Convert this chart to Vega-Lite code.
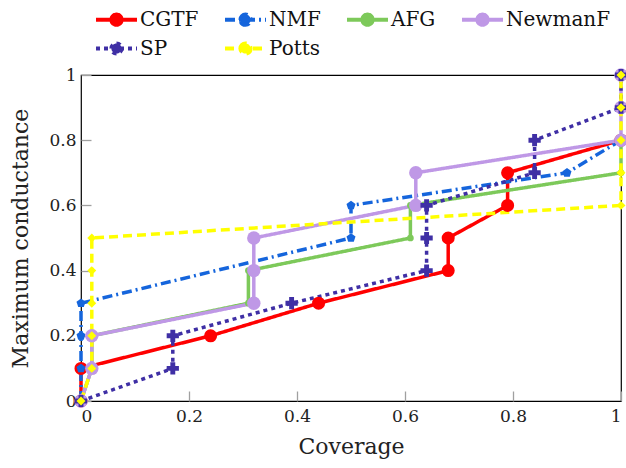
{
  "$schema": "https://vega.github.io/schema/vega-lite/v6.json",
  "width": 540,
  "height": 326,
  "autosize": {"type": "none"},
  "padding": {"left": 81, "top": 75, "right": 5, "bottom": 67},
  "background": "white",
  "config": {
    "font": "DejaVu Serif",
    "view": {"stroke": "black", "strokeWidth": 1.2},
    "axis": {"grid": false, "domain": false, "tickColor": "#a0a0a0", "tickWidth": 1.3, "tickSize": -10, "labelColor": "#222222", "labelFontSize": 17, "titleFontSize": 22, "titleFontWeight": "normal", "titleColor": "#222222", "labelFont": "DejaVu Serif", "titleFont": "DejaVu Serif"},
    "legend": {"labelFont": "DejaVu Serif", "labelFontSize": 20, "labelColor": "#111111"}
  },
  "data": {
    "values": [
      {"series": "CGTF", "coverage": 0, "conductance": 0},
      {"series": "CGTF", "coverage": 0, "conductance": 0.1},
      {"series": "CGTF", "coverage": 0.24, "conductance": 0.2},
      {"series": "CGTF", "coverage": 0.44, "conductance": 0.3},
      {"series": "CGTF", "coverage": 0.68, "conductance": 0.4},
      {"series": "CGTF", "coverage": 0.68, "conductance": 0.5},
      {"series": "CGTF", "coverage": 0.79, "conductance": 0.6},
      {"series": "CGTF", "coverage": 0.79, "conductance": 0.7},
      {"series": "CGTF", "coverage": 1, "conductance": 0.8},
      {"series": "NMF", "coverage": 0, "conductance": 0},
      {"series": "NMF", "coverage": 0, "conductance": 0.1},
      {"series": "NMF", "coverage": 0, "conductance": 0.2},
      {"series": "NMF", "coverage": 0, "conductance": 0.3},
      {"series": "NMF", "coverage": 0.5, "conductance": 0.5},
      {"series": "NMF", "coverage": 0.5, "conductance": 0.6},
      {"series": "NMF", "coverage": 0.9, "conductance": 0.7},
      {"series": "NMF", "coverage": 1, "conductance": 0.8},
      {"series": "AFG", "coverage": 0, "conductance": 0},
      {"series": "AFG", "coverage": 0.02, "conductance": 0.1},
      {"series": "AFG", "coverage": 0.02, "conductance": 0.2},
      {"series": "AFG", "coverage": 0.31, "conductance": 0.3},
      {"series": "AFG", "coverage": 0.31, "conductance": 0.4},
      {"series": "AFG", "coverage": 0.61, "conductance": 0.5},
      {"series": "AFG", "coverage": 0.61, "conductance": 0.6},
      {"series": "AFG", "coverage": 1, "conductance": 0.7},
      {"series": "AFG", "coverage": 1, "conductance": 0.8},
      {"series": "NewmanF", "coverage": 0, "conductance": 0},
      {"series": "NewmanF", "coverage": 0.02, "conductance": 0.1},
      {"series": "NewmanF", "coverage": 0.02, "conductance": 0.2},
      {"series": "NewmanF", "coverage": 0.32, "conductance": 0.3},
      {"series": "NewmanF", "coverage": 0.32, "conductance": 0.4},
      {"series": "NewmanF", "coverage": 0.32, "conductance": 0.5},
      {"series": "NewmanF", "coverage": 0.62, "conductance": 0.6},
      {"series": "NewmanF", "coverage": 0.62, "conductance": 0.7},
      {"series": "NewmanF", "coverage": 1, "conductance": 0.8},
      {"series": "NewmanF", "coverage": 1, "conductance": 0.9},
      {"series": "NewmanF", "coverage": 1, "conductance": 1},
      {"series": "SP", "coverage": 0, "conductance": 0},
      {"series": "SP", "coverage": 0.17, "conductance": 0.1},
      {"series": "SP", "coverage": 0.17, "conductance": 0.2},
      {"series": "SP", "coverage": 0.39, "conductance": 0.3},
      {"series": "SP", "coverage": 0.64, "conductance": 0.4},
      {"series": "SP", "coverage": 0.64, "conductance": 0.5},
      {"series": "SP", "coverage": 0.64, "conductance": 0.6},
      {"series": "SP", "coverage": 0.84, "conductance": 0.7},
      {"series": "SP", "coverage": 0.84, "conductance": 0.8},
      {"series": "SP", "coverage": 1, "conductance": 0.9},
      {"series": "SP", "coverage": 1, "conductance": 1},
      {"series": "Potts", "coverage": 0, "conductance": 0},
      {"series": "Potts", "coverage": 0.02, "conductance": 0.1},
      {"series": "Potts", "coverage": 0.02, "conductance": 0.2},
      {"series": "Potts", "coverage": 0.02, "conductance": 0.3},
      {"series": "Potts", "coverage": 0.02, "conductance": 0.4},
      {"series": "Potts", "coverage": 0.02, "conductance": 0.5},
      {"series": "Potts", "coverage": 1, "conductance": 0.6},
      {"series": "Potts", "coverage": 1, "conductance": 0.7},
      {"series": "Potts", "coverage": 1, "conductance": 0.8},
      {"series": "Potts", "coverage": 1, "conductance": 0.9},
      {"series": "Potts", "coverage": 1, "conductance": 1}
    ]
  },
  "encoding": {
    "x": {"field": "coverage", "type": "quantitative", "scale": {"domain": [0, 1], "nice": false, "zero": false}, "axis": {"title": "Coverage", "values": [0, 0.2, 0.4, 0.6, 0.8, 1], "format": "~g", "labelPadding": 17, "titlePadding": 12}},
    "y": {"field": "conductance", "type": "quantitative", "scale": {"domain": [0, 1], "nice": false}, "axis": {"title": "Maximum conductance", "values": [0, 0.2, 0.4, 0.6, 0.8, 1], "format": "~g", "labelPadding": 15, "titlePadding": 16}}
  },
  "layer": [
    {
      "mark": {"type": "line", "strokeWidth": 3.5, "clip": false},
      "encoding": {
        "order": {"field": "conductance", "type": "quantitative"},
        "stroke": {"field": "series", "type": "nominal", "scale": {"domain": ["CGTF", "NMF", "AFG", "NewmanF", "SP", "Potts"], "range": ["#ff0000", "#1565dc", "#7dc95a", "#bf98e6", "#3f2fa5", "#ffff00"]},
          "legend": {"title": null, "orient": "none", "legendX": 23, "legendY": -68, "columns": 4, "direction": "horizontal", "symbolType": "M-2,0L2,0M-0.5,0A0.5,0.5,0,1,1,0.5,0A0.5,0.5,0,1,1,-0.5,0Z", "symbolSize": 420, "symbolStrokeWidth": 4, "labelOffset": 11, "columnPadding": 18, "rowPadding": 2,
            "encode": {"symbols": {"update": {"fill": {"scale": "stroke", "field": "value"}}}}}},
        "strokeDash": {"field": "series", "type": "nominal", "scale": {"domain": ["CGTF", "NMF", "AFG", "NewmanF", "SP", "Potts"], "range": [[1, 0], [10, 4, 2, 4], [1, 0], [1, 0], [4, 4], [9, 5]]},
          "legend": {"title": null, "orient": "none", "legendX": 23, "legendY": -68, "columns": 4, "direction": "horizontal", "symbolType": "M-2,0L2,0M-0.5,0A0.5,0.5,0,1,1,0.5,0A0.5,0.5,0,1,1,-0.5,0Z", "symbolSize": 420, "symbolStrokeWidth": 4, "labelOffset": 11, "columnPadding": 18, "rowPadding": 2,
            "encode": {"symbols": {"update": {"fill": {"scale": "stroke", "field": "value"}}}}}}
      }
    },
    {
      "transform": [{"filter": "datum.series == 'CGTF'"}],
      "mark": {"type": "point", "filled": true, "opacity": 1, "shape": "circle", "size": 170, "color": "#ff0000", "clip": false}
    },
    {
      "transform": [{"filter": "datum.series == 'NMF' && datum.conductance > 0"}],
      "mark": {"type": "point", "filled": true, "opacity": 1, "shape": "M0,-1L0.95,-0.31L0.59,0.81L-0.59,0.81L-0.95,-0.31Z", "size": 90, "color": "#1565dc", "clip": false}
    },
    {
      "transform": [{"filter": "datum.series == 'AFG'"}],
      "mark": {"type": "point", "filled": true, "opacity": 1, "shape": "circle", "size": 45, "color": "#7dc95a", "clip": false}
    },
    {
      "transform": [{"filter": "datum.series == 'NewmanF'"}],
      "mark": {"type": "point", "filled": true, "opacity": 1, "shape": "circle", "size": 180, "color": "#bf98e6", "clip": false}
    },
    {
      "transform": [{"filter": "datum.series == 'SP'"}],
      "mark": {"type": "point", "filled": true, "opacity": 1, "shape": "cross", "size": 150, "color": "#3f2fa5", "clip": false}
    },
    {
      "transform": [{"filter": "datum.series == 'Potts'"}],
      "mark": {"type": "point", "filled": true, "opacity": 1, "shape": "diamond", "size": 80, "color": "#ffff00", "clip": false}
    }
  ]
}
